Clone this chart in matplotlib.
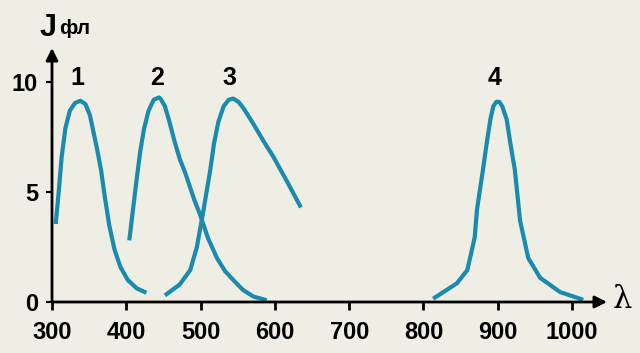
import matplotlib
matplotlib.use("Agg")
import matplotlib.pyplot as plt

# fluorescence spectra
x1 = [305, 309, 313, 318, 324, 331, 338, 345, 351, 356, 361, 366, 371, 377, 384, 392, 402, 414, 427]
y1 = [3.55, 5.0, 6.6, 7.9, 8.7, 9.05, 9.15, 9.0, 8.5, 7.7, 6.9, 6.0, 4.8, 3.5, 2.4, 1.6, 1.0, 0.62, 0.42]

x2 = [404, 409, 414, 419, 424, 430, 437, 444, 446, 452, 458, 465, 472, 479, 485, 492, 499,
      510, 522, 533, 544, 557, 571, 589]
y2 = [2.8, 4.2, 5.6, 6.9, 7.9, 8.7, 9.2, 9.3, 9.25, 8.9, 8.2, 7.3, 6.5, 5.9, 5.3, 4.6, 4.0,
      2.9, 2.0, 1.4, 1.0, 0.55, 0.25, 0.08]

x3 = [452, 472, 486, 495, 503, 508, 513, 518, 524, 531, 538, 544, 551, 558, 571, 585, 598, 616, 635]
y3 = [0.3, 0.8, 1.45, 2.5, 4.0, 5.0, 6.0, 7.2, 8.2, 8.9, 9.2, 9.25, 9.1, 8.8, 8.1, 7.3, 6.6, 5.5, 4.3]

x4 = [813, 845, 859, 869, 872, 876, 880, 885, 890, 894, 898, 902, 906, 912, 917, 923, 930,
      941, 957, 984, 1015]
y4 = [0.15, 0.85, 1.45, 2.95, 4.2, 5.1, 6.0, 7.2, 8.3, 8.9, 9.1, 9.1, 8.9, 8.3, 7.2, 6.0, 3.7,
      2.0, 1.1, 0.45, 0.1]

labels = ["1", "2", "3", "4"]
label_x = [334, 442, 539, 896]

xticks = [300, 400, 500, 600, 700, 800, 900, 1000]
yticks = [0, 5, 10]

bg = "#efeee4"
blue = "#1a8aae"

fig = plt.figure(figsize=(6.4, 3.53), dpi=100, facecolor=bg)
ax = fig.add_axes([52 / 640, 1 - 302 / 353, 555 / 640, 254 / 353])
ax.set_facecolor(bg)
ax.set_xlim(300, 1047)
ax.set_ylim(0, 11.55)

for xs, ys in [(x1, y1), (x2, y2), (x3, y3), (x4, y4)]:
    ax.plot(xs, ys, color=blue, lw=3.0, solid_capstyle="butt", solid_joinstyle="round")

for t, xl in zip(labels, label_x):
    ax.text(xl, 10.2, t, ha="center", va="center", fontsize=18, fontweight="bold",
            family="Liberation Sans")

for s in ax.spines.values():
    s.set_visible(False)

# axes with arrows
ax.annotate("", xy=(1, 0), xytext=(0, 0), xycoords="axes fraction",
            arrowprops=dict(arrowstyle="-|>", color="black", lw=2, mutation_scale=18,
                            shrinkA=0, shrinkB=0))
ax.annotate("", xy=(0, 1), xytext=(0, 0), xycoords="axes fraction",
            arrowprops=dict(arrowstyle="-|>", color="black", lw=2, mutation_scale=18,
                            shrinkA=0, shrinkB=0))

ax.set_xticks(xticks)
ax.set_xticklabels([str(v) for v in xticks], fontsize=17, fontweight="bold",
                   family="Liberation Sans")
ax.set_yticks(yticks)
ax.set_yticklabels([str(v) for v in yticks], fontsize=17, fontweight="bold",
                   family="Liberation Sans")
ax.tick_params(axis="x", length=6, width=2, direction="out", pad=8)
ax.tick_params(axis="y", length=4, width=1.5, direction="out", pad=6)

fig.text(48 / 640, 1 - 28 / 353, "J", fontsize=22, fontweight="bold", family="Liberation Sans",
         ha="center", va="center")
fig.text(75 / 640, 1 - 29 / 353, "фл", fontsize=15, fontweight="bold", family="Liberation Sans",
         ha="center", va="center")
fig.text(622 / 640, 1 - 299 / 353, "λ", fontsize=22, family="DejaVu Serif",
         ha="center", va="center")

fig.savefig("out.png", dpi=100, facecolor=bg)
